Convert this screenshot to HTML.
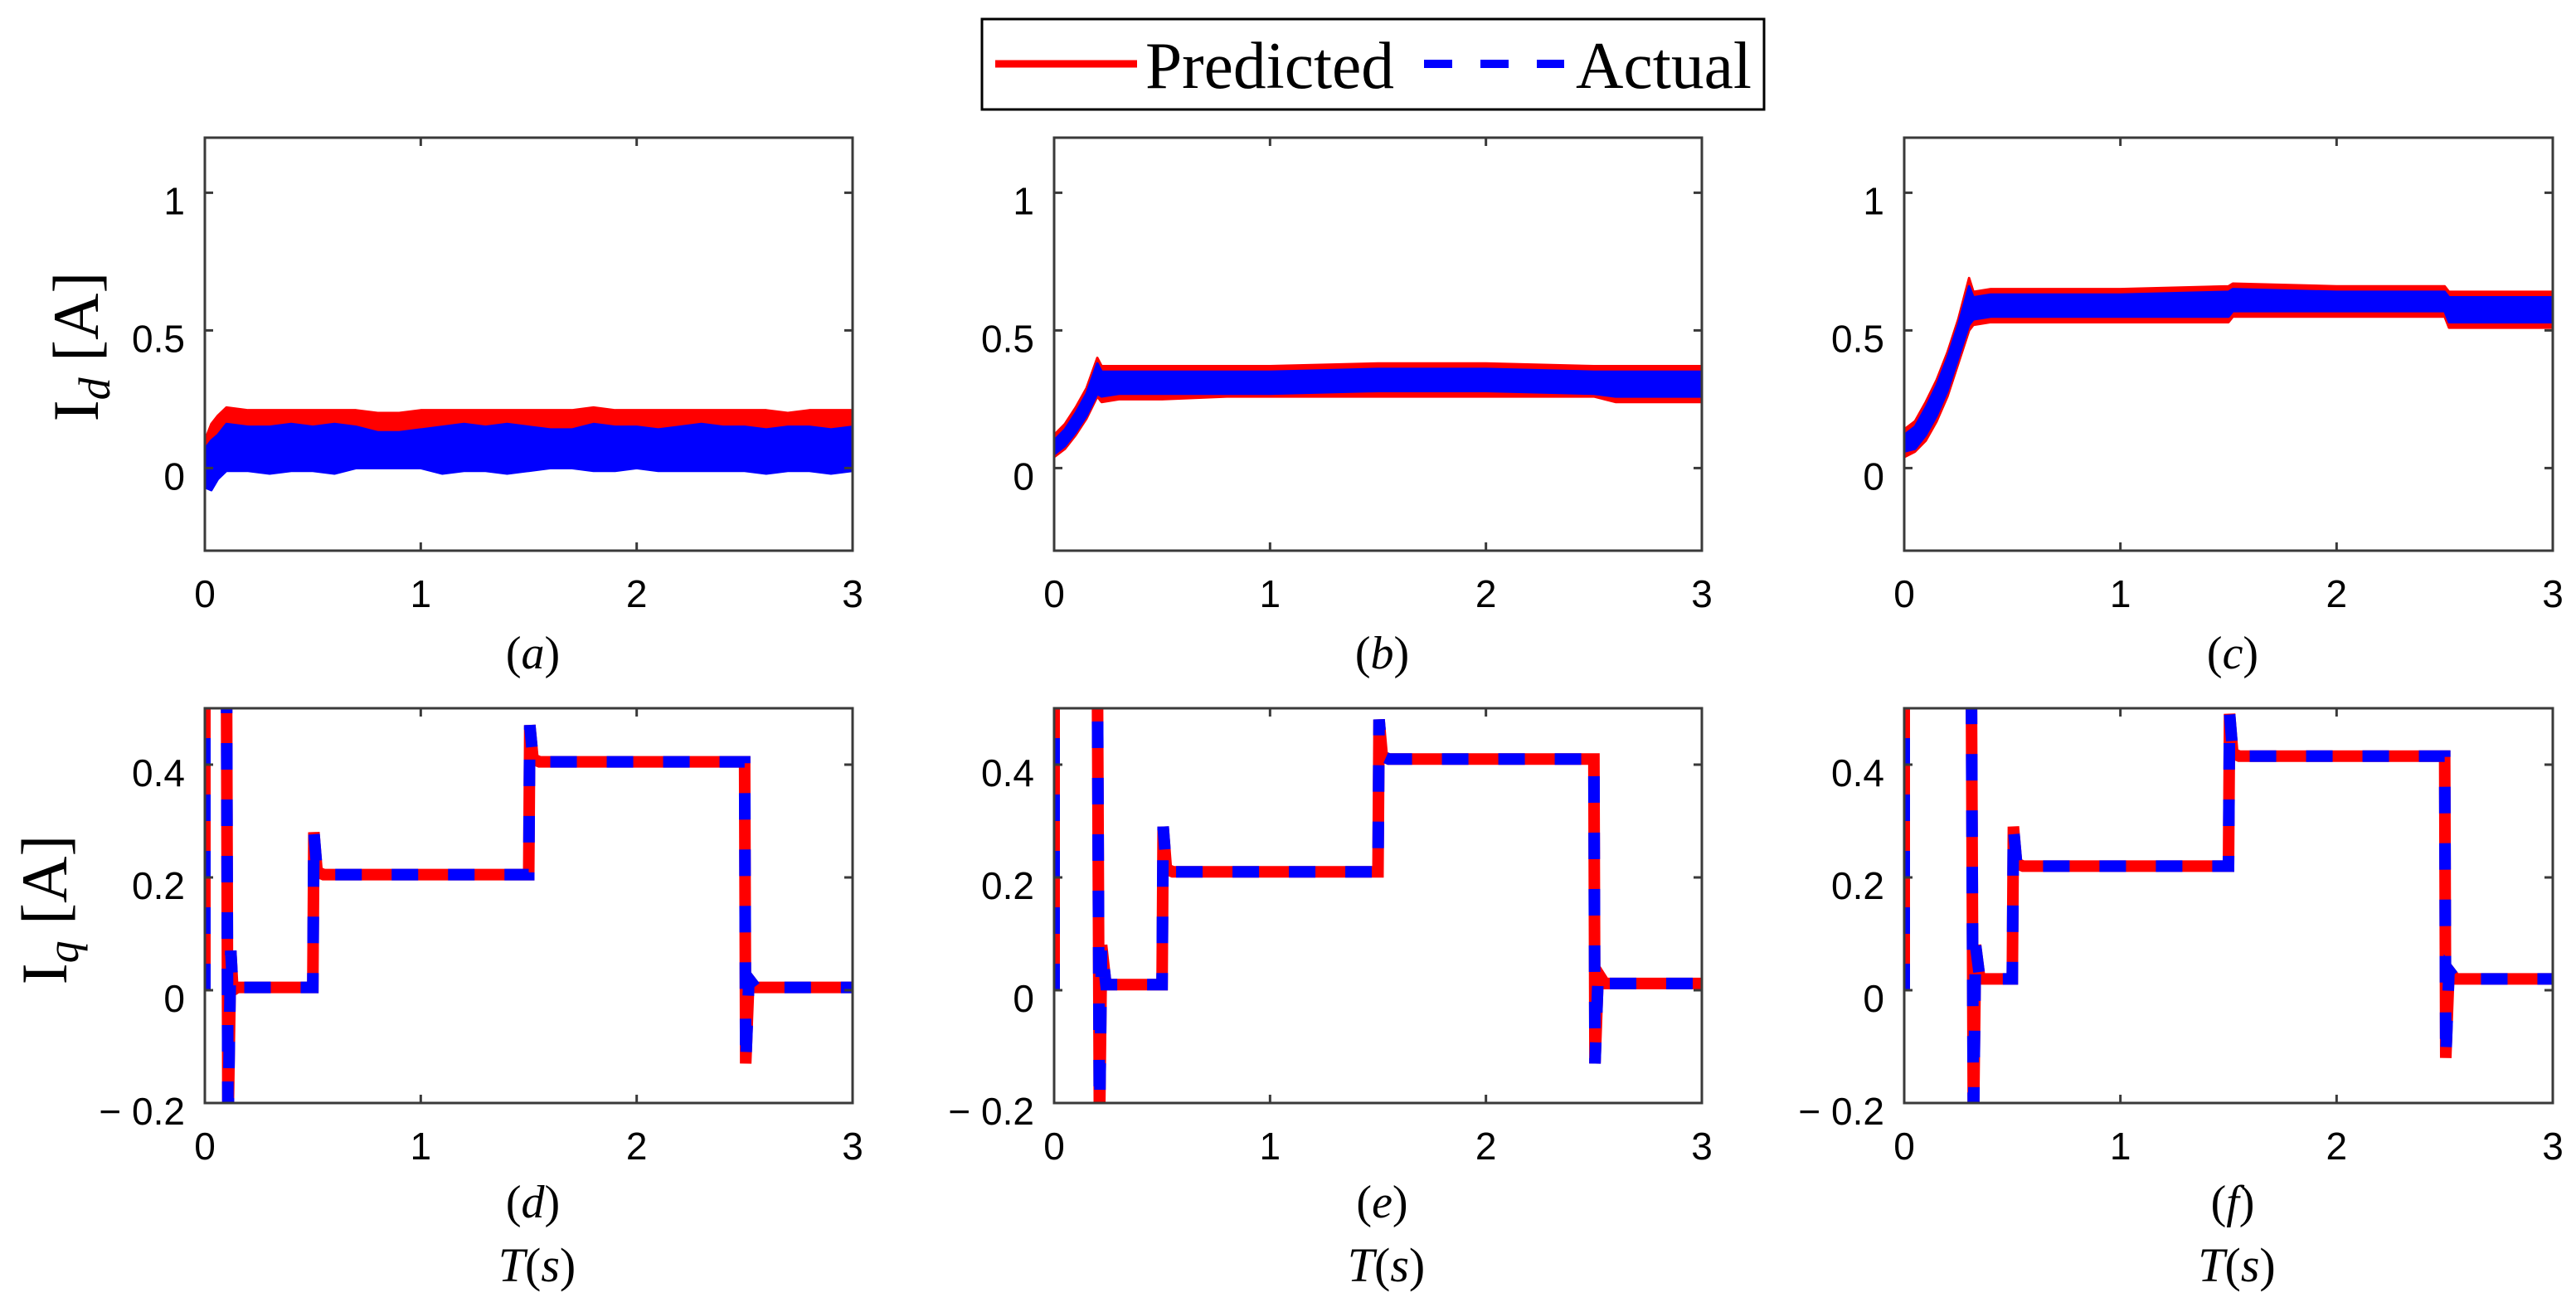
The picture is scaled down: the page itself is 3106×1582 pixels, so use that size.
<!DOCTYPE html>
<html><head><meta charset="utf-8"><style>
html,body{margin:0;padding:0;background:#fff}
svg{display:block}
</style></head><body>
<svg id="chart" width="3106" height="1582" viewBox="0 0 3106 1582" xmlns="http://www.w3.org/2000/svg">
<g>
<rect x="1184" y="23" width="943" height="109" fill="#fff" stroke="#000" stroke-width="3"/>
<line x1="1200" y1="77" x2="1371" y2="77" stroke="#f00" stroke-width="9"/>
<text x="1381" y="106" font-family="Liberation Serif, serif" font-size="80" textLength="300" lengthAdjust="spacingAndGlyphs">Predicted</text>
<line x1="1717" y1="77" x2="1886" y2="77" stroke="#00f" stroke-width="10" stroke-dasharray="34,34"/>
<text x="1900" y="106" font-family="Liberation Serif, serif" font-size="80" textLength="212" lengthAdjust="spacingAndGlyphs">Actual</text>
</g>
<text transform="translate(118,418) rotate(-90)" text-anchor="middle" font-family="Liberation Serif, serif" font-size="78">I<tspan font-size="54" font-style="italic" dy="14">d</tspan><tspan dy="-14"> [A]</tspan></text>
<text transform="translate(80,1097) rotate(-90)" text-anchor="middle" font-family="Liberation Serif, serif" font-size="78">I<tspan font-size="54" font-style="italic" dy="14">q</tspan><tspan dy="-14"> [A]</tspan></text>
</svg>
<script>
// ---- data ----
const xTicks=[0,1,2,3];
const idTicks=[0,0.5,1];
const idTickLabels=['0','0.5','1'];
const iqTicks=[-0.2,0,0.2,0.4];
const iqTickLabels=['\u2212 0.2','0','0.2','0.4'];
const panelLetters=['a','b','c','d','e','f'];
// Id envelopes (time, upper, lower)
const idT=[0,0.03,0.06,0.1,0.2,0.3,0.4,0.5,0.6,0.7,0.8,0.9,1,1.1,1.2,1.3,1.4,1.5,1.6,1.7,1.8,1.9,2,2.1,2.2,2.3,2.4,2.5,2.6,2.7,2.8,2.9,3];
const aPredUp=[0.1,0.16,0.19,0.22,0.21,0.21,0.21,0.21,0.21,0.21,0.2,0.2,0.21,0.21,0.21,0.21,0.21,0.21,0.21,0.21,0.22,0.21,0.21,0.21,0.21,0.21,0.21,0.21,0.21,0.2,0.21,0.21,0.21];
const aPredLo=[0.04,0.08,0.1,0.12,0.12,0.12,0.12,0.12,0.12,0.12,0.11,0.1,0.11,0.12,0.12,0.12,0.12,0.12,0.12,0.12,0.12,0.12,0.12,0.12,0.12,0.12,0.12,0.12,0.12,0.12,0.12,0.12,0.12];
const aActUp=[0.07,0.1,0.12,0.16,0.15,0.15,0.16,0.15,0.16,0.15,0.13,0.13,0.14,0.15,0.16,0.15,0.16,0.15,0.14,0.14,0.16,0.15,0.15,0.14,0.15,0.16,0.15,0.15,0.14,0.15,0.15,0.14,0.15];
const aActLo=[-0.07,-0.08,-0.04,-0.01,-0.01,-0.02,-0.01,-0.01,-0.02,0,0,0,0,-0.02,-0.01,-0.01,-0.02,-0.01,0,0,-0.01,-0.01,0,-0.01,-0.01,-0.01,-0.01,-0.01,-0.02,-0.01,-0.01,-0.02,-0.01];
const bT=[0,0.05,0.1,0.15,0.2,0.22,0.3,0.5,0.8,1,1.5,2,2.5,2.6,3];
const bPredUp=[0.12,0.16,0.22,0.29,0.4,0.37,0.37,0.37,0.37,0.37,0.38,0.38,0.37,0.37,0.37];
const bPredLo=[0.04,0.07,0.12,0.18,0.26,0.24,0.25,0.25,0.26,0.26,0.26,0.26,0.26,0.24,0.24];
const bActUp=[0.1,0.14,0.2,0.27,0.38,0.35,0.35,0.35,0.35,0.35,0.36,0.36,0.35,0.35,0.35];
const bActLo=[0.05,0.08,0.13,0.19,0.27,0.26,0.27,0.27,0.27,0.27,0.28,0.28,0.27,0.26,0.26];
const cT=[0,0.05,0.1,0.15,0.2,0.25,0.3,0.32,0.4,0.8,1,1.5,1.52,2,2.5,2.52,3];
const cPredUp=[0.14,0.17,0.24,0.32,0.42,0.54,0.69,0.64,0.65,0.65,0.65,0.66,0.67,0.66,0.66,0.64,0.64];
const cPredLo=[0.04,0.06,0.1,0.17,0.26,0.38,0.5,0.52,0.53,0.53,0.53,0.53,0.55,0.55,0.55,0.51,0.51];
const cActUp=[0.12,0.15,0.22,0.3,0.4,0.52,0.66,0.62,0.63,0.63,0.63,0.64,0.65,0.64,0.64,0.62,0.62];
const cActLo=[0.06,0.07,0.12,0.19,0.28,0.4,0.52,0.54,0.55,0.55,0.55,0.55,0.57,0.57,0.57,0.53,0.53];
// Iq trajectories
const dT=[0,0,0.01,0.1,0.107,0.12,0.13,0.15,0.5,0.505,0.52,0.55,1.5,1.505,1.52,1.55,2.5,2.505,2.52,2.55,3];
const dV=[0,0.6,0.6,0.6,-0.25,0.07,0.0,0.005,0.005,0.28,0.21,0.205,0.205,0.47,0.41,0.405,0.405,-0.13,0.02,0.005,0.005];
const eT=[0,0,0.01,0.2,0.21,0.22,0.24,0.26,0.5,0.505,0.52,0.55,1.5,1.505,1.52,1.55,2.5,2.505,2.52,2.55,3];
const eV=[0,0.6,0.6,0.6,-0.25,0.08,0.01,0.01,0.01,0.29,0.215,0.21,0.21,0.48,0.415,0.41,0.41,-0.13,0.03,0.012,0.012];
const fT=[0,0,0.01,0.31,0.32,0.33,0.35,0.37,0.5,0.505,0.52,0.55,1.5,1.505,1.52,1.55,2.5,2.505,2.52,2.55,3];
const fV=[0,0.6,0.6,0.6,-0.25,0.08,0.02,0.02,0.02,0.29,0.225,0.22,0.22,0.49,0.42,0.415,0.415,-0.12,0.035,0.02,0.02];

const NS='http://www.w3.org/2000/svg';
const svg=document.getElementById('chart');
function mk(tag,attrs,parent){const e=document.createElementNS(NS,tag);for(const k in attrs)e.setAttribute(k,attrs[k]);(parent||svg).appendChild(e);return e;}
const cols=[[247,1028],[1271,2052],[2296,3078]];
const rows=[{top:166,bot:664,ymin:-0.3,ymax:1.2,ticks:idTicks,labels:idTickLabels,lab:788},
            {top:854,bot:1330,ymin:-0.2,ymax:0.5,ticks:iqTicks,labels:iqTickLabels,lab:1450}];
const bands=[[idT,aPredUp,aPredLo,aActUp,aActLo],[bT,bPredUp,bPredLo,bActUp,bActLo],[cT,cPredUp,cPredLo,cActUp,cActLo]];
const lines=[[dT,dV],[eT,eV],[fT,fV]];
let pi=0;
for(let r=0;r<2;r++){for(let c=0;c<3;c++){
  const R=rows[r],[x0,x1]=cols[c];
  const sx=t=>x0+(t-0)/3*(x1-x0);
  const sy=v=>R.bot-(v-R.ymin)/(R.ymax-R.ymin)*(R.bot-R.top);
  const g=mk('g',{});
  
  
  const cid='clip'+pi;
  const cp=mk('clipPath',{id:cid},g);mk('rect',{x:x0,y:R.top,width:x1-x0,height:R.bot-R.top},cp);
  const plot=mk('g',{'clip-path':'url(#'+cid+')'},g);
  if(r===0){
    const [T,pu,pl,au,al]=bands[c];
    const poly=(up,lo)=>{let p=T.map((t,i)=>sx(t)+','+sy(up[i]));for(let i=T.length-1;i>=0;i--)p.push(sx(T[i])+','+sy(lo[i]));return p.join(' ');};
    const pr=mk('polygon',{points:poly(pu,pl),fill:'#f00',stroke:'#f00','stroke-width':3,'stroke-linejoin':'round'},plot);
    
    
    const ac=mk('polygon',{points:poly(au,al),fill:'#00f',stroke:'#00f','stroke-width':3,'stroke-linejoin':'round'},plot);
    
    
  } else {
    const [T,V]=lines[c];
    const pts=T.map((t,i)=>sx(t)+','+sy(V[i])).join(' ');
    const pr=mk('polyline',{points:pts,fill:'none',stroke:'#f00','stroke-width':14,'stroke-linejoin':'miter'},plot);
    
    
    const ac=mk('polyline',{points:pts,fill:'none',stroke:'#00f','stroke-width':14,'stroke-dasharray':'32,36'},plot);
    
    
  }
  const fr=mk('rect',{x:x0,y:R.top,width:x1-x0,height:R.bot-R.top,fill:'none',stroke:'#3a3a3a','stroke-width':3},g);
  
  
  xTicks.forEach(t=>{
    mk('line',{x1:sx(t),x2:sx(t),y1:R.bot,y2:R.bot-10,stroke:'#3a3a3a','stroke-width':3},g);
    mk('line',{x1:sx(t),x2:sx(t),y1:R.top,y2:R.top+10,stroke:'#3a3a3a','stroke-width':3},g);
    const tl=mk('text',{x:sx(t),y:R.bot+68,'text-anchor':'middle','font-family':'Liberation Sans, sans-serif','font-size':46},g);
    tl.textContent=String(t);
    
    
  });
  R.ticks.forEach((v,i)=>{
    mk('line',{x1:x0,x2:x0+10,y1:sy(v),y2:sy(v),stroke:'#3a3a3a','stroke-width':3},g);
    mk('line',{x1:x1,x2:x1-10,y1:sy(v),y2:sy(v),stroke:'#3a3a3a','stroke-width':3},g);
    const tl=mk('text',{x:x0-24,y:sy(v)+26,'text-anchor':'end','font-family':'Liberation Sans, sans-serif','font-size':46},g);
    tl.textContent=R.labels[i];
    
    
  });
  const pl=mk('text',{x:(x0+x1)/2+5,y:R.lab+18,'text-anchor':'middle','font-family':'Liberation Serif, serif','font-size':56},g);
  pl.innerHTML='(<tspan font-style="italic">'+panelLetters[pi]+'</tspan>)';
  
  
  if(r===1){
    const xl=mk('text',{x:(x0+x1)/2+10,y:1545,'text-anchor':'middle','font-family':'Liberation Serif, serif','font-size':58},g);
    xl.innerHTML='<tspan font-style="italic">T</tspan>(<tspan font-style="italic">s</tspan>)';
    
    
  }
  pi++;
}}
</script>
</body></html>
